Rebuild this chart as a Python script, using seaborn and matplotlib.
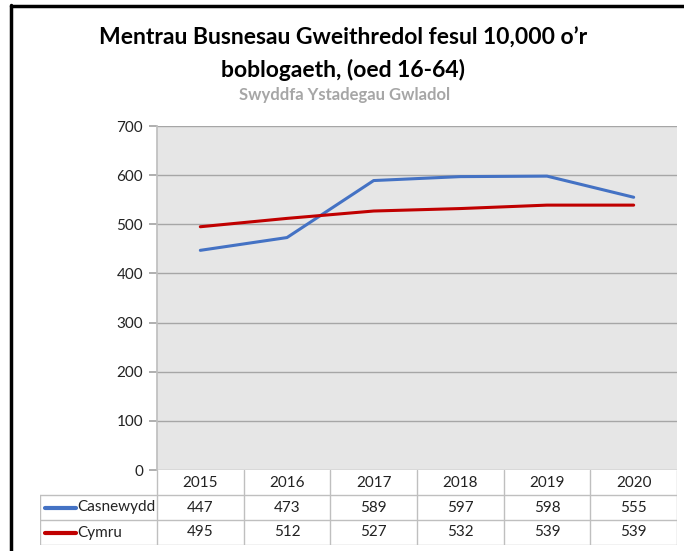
import matplotlib
matplotlib.use("Agg")
import matplotlib.pyplot as plt
from matplotlib.lines import Line2D
import numpy as np
import pandas as pd
import seaborn as sns

blynyddoedd = ["2015", "2016", "2017", "2018", "2019", "2020"]
casnewydd = [447, 473, 589, 597, 598, 555]
cymru = [495, 512, 527, 532, 539, 539]
cyfresi = ["Casnewydd", "Cymru"]
lliwiau = ["#4472C4", "#C00000"]

df = pd.DataFrame({
    "Blwyddyn": blynyddoedd * 2,
    "Gwerth": casnewydd + cymru,
    "Cyfres": ["Casnewydd"] * 6 + ["Cymru"] * 6,
})
df["x"] = df["Blwyddyn"].map({b: i for i, b in enumerate(blynyddoedd)})

sns.set_theme(style="white")
plt.rcParams["font.family"] = ["Lato", "DejaVu Sans"]

W, H = 684, 551
fig = plt.figure(figsize=(W / 100, H / 100), dpi=100)

def px(x0, y0, x1, y1):
    return [x0 / W, 1 - y1 / H, (x1 - x0) / W, (y1 - y0) / H]

# prif siart
ax = fig.add_axes(px(157, 126, 677, 470))
ax.set_facecolor("#E6E6E6")
sns.lineplot(data=df, x="x", y="Gwerth", hue="Cyfres", palette=lliwiau,
             linewidth=2.2, ax=ax, legend=False)
ax.set_xlim(-0.5, 5.5)
ax.set_ylim(0, 700)
ax.set_yticks(np.arange(0, 701, 100))
ax.set_xticks([])
ax.set_xlabel("")
ax.set_ylabel("")
ax.grid(axis="y", color="#A6A6A6", linewidth=1)
ax.set_axisbelow(True)
for s in ["top", "right", "bottom"]:
    ax.spines[s].set_visible(False)
ax.spines["left"].set_color("#BFBFBF")
ax.tick_params(axis="y", length=6, color="#A6A6A6", labelsize=11, pad=4,
               left=True, labelcolor="#222222")

# tabl data
w_pen = 117 / (520 / 6)
tab = fig.add_axes(px(40, 470, 677, 545))
tab.set_xlim(-0.5 - w_pen, 5.5)
tab.set_ylim(3, 0)
tab.axis("off")
gl = "#BFBFBF"
for i in range(7):
    tab.plot([i - 0.5, i - 0.5], [0, 3], color=gl, lw=1)
tab.plot([-0.5 - w_pen] * 2, [1, 3], color=gl, lw=1)
for r in [1, 2, 3]:
    tab.plot([-0.5 - w_pen, 5.5], [r, r], color=gl, lw=1)
for i, b in enumerate(blynyddoedd):
    tab.text(i, 0.5, b, ha="center", va="center", fontsize=11, color="#222222")
    tab.text(i, 1.5, str(casnewydd[i]), ha="center", va="center", fontsize=11, color="#222222")
    tab.text(i, 2.5, str(cymru[i]), ha="center", va="center", fontsize=11, color="#222222")
for r, (enw, lliw) in enumerate(zip(cyfresi, lliwiau)):
    x0 = -0.5 - w_pen
    tab.plot([x0 + 0.06, x0 + 0.42], [r + 1.5] * 2, color=lliw, lw=3)
    tab.text(x0 + 0.43, r + 1.5, enw, ha="left", va="center", fontsize=11, color="#222222")

# teitlau
fig.text(343 / W, 1 - 38 / H, "Mentrau Busnesau Gweithredol fesul 10,000 o\u2019r",
         ha="center", va="center", fontsize=16.5, fontweight="bold", color="black")
fig.text(343 / W, 1 - 70 / H, "boblogaeth, (oed 16-64)",
         ha="center", va="center", fontsize=16.5, fontweight="bold", color="black")
fig.text(345 / W, 1 - 95 / H, "Swyddfa Ystadegau Gwladol",
         ha="center", va="center", fontsize=12, fontweight="bold", color="#A6A6A6")

# ffin
fig.add_artist(Line2D([11 / W, 11 / W], [0, 1 - 5 / H], color="black", lw=2.5,
                      transform=fig.transFigure))
fig.add_artist(Line2D([11 / W, 1], [1 - 6 / H, 1 - 6 / H], color="black", lw=2.5,
                      transform=fig.transFigure))

fig.savefig("out.png", dpi=100, facecolor="white")
